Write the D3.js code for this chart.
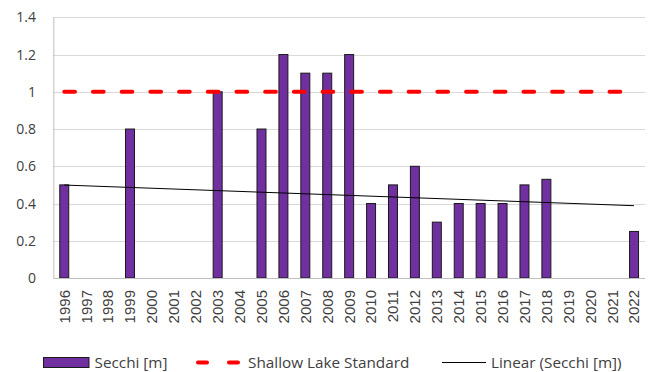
<!DOCTYPE html>
<html>
<head>
<meta charset="utf-8">
<script src="https://cdn.jsdelivr.net/npm/d3@7"></script>
<style>
  html, body { margin: 0; padding: 0; background: #fff; }
  svg { display: block; }
  .ylab { font-family: "Open Sans", "Noto Sans", sans-serif; font-size: 14px; fill: #404040; }
  .xlab { font-family: "Liberation Sans", Arial, sans-serif; font-size: 15px; fill: #404040; }
  .leg { font-family: "Open Sans", "Noto Sans", sans-serif; font-size: 15.3px; fill: #404040; }
</style>
</head>
<body>
<script>
// Secchi depth by year (m); null = no measurement that year
const years = ["1996","1997","1998","1999","2000","2001","2002","2003","2004","2005","2006","2007","2008","2009","2010","2011","2012","2013","2014","2015","2016","2017","2018","2019","2020","2021","2022"];
const secchi = [0.5, null, null, 0.8, null, null, null, 1.0, null, 0.8, 1.2, 1.1, 1.1, 1.2, 0.4, 0.5, 0.6, 0.3, 0.4, 0.4, 0.4, 0.5, 0.53, null, null, null, 0.25];
const shallowLakeStandard = 1.0;
const yTicks = [0, 0.2, 0.4, 0.6, 0.8, 1, 1.2, 1.4];
const legendLabels = ["Secchi [m]", "Shallow Lake Standard", "Linear (Secchi [m])"];

const W = 652, H = 372;
const plot = { left: 53.3, right: 645, top: 17.3, bottom: 278 };

const svg = d3.select("body").append("svg").attr("width", W).attr("height", H);

const x = d3.scaleBand().domain(years).range([plot.left, plot.right]).paddingInner(0).paddingOuter(0);
const y = d3.scaleLinear().domain([0, 1.4]).range([plot.bottom, plot.top]);
const cx = d => x(d) + x.bandwidth() / 2;

// Horizontal gridlines
svg.append("g").selectAll("line").data(yTicks.filter(t => t > 0)).join("line")
  .attr("x1", plot.left).attr("x2", plot.right)
  .attr("y1", d => Math.round(y(d)) + 0.5).attr("y2", d => Math.round(y(d)) + 0.5)
  .attr("stroke", "#d9d9d9").attr("stroke-width", 1);

// Y axis labels
svg.append("g").selectAll("text").data(yTicks).join("text")
  .attr("class", "ylab")
  .attr("x", 36).attr("y", d => y(d)).attr("dy", "0.36em")
  .attr("text-anchor", "end")
  .text(d => d3.format("~g")(d));

// Bars
const barW = x.bandwidth() * 0.41;
const pts = years.map((yr, i) => ({ yr, v: secchi[i] }));
svg.append("g").selectAll("rect").data(pts.filter(p => p.v !== null)).join("rect")
  .attr("x", d => cx(d.yr) - barW / 2)
  .attr("y", d => y(d.v))
  .attr("width", barW)
  .attr("height", d => y(0) - y(d.v))
  .attr("fill", "#7030a0")
  .attr("stroke", "#1a1a1a").attr("stroke-width", 1);

// Axes lines (left and bottom)
svg.append("line").attr("x1", plot.left + 0.5).attr("x2", plot.left + 0.5)
  .attr("y1", plot.top).attr("y2", plot.bottom)
  .attr("stroke", "#bfbfbf");
svg.append("line").attr("x1", plot.left).attr("x2", plot.right)
  .attr("y1", Math.round(y(0)) + 0.5).attr("y2", Math.round(y(0)) + 0.5)
  .attr("stroke", "#bfbfbf");

// Shallow lake standard (dashed red)
svg.append("line")
  .attr("x1", cx(years[0])).attr("x2", cx(years[years.length - 1]))
  .attr("y1", y(shallowLakeStandard)).attr("y2", y(shallowLakeStandard))
  .attr("stroke", "#ff0000").attr("stroke-width", 4)
  .attr("stroke-linecap", "round")
  .attr("stroke-dasharray", "10.7,18");

// Linear trend of Secchi over category index (empty years count as zero)
const n = years.length;
const xs = d3.range(1, n + 1);
const ys = secchi.map(v => v === null ? 0 : v);
const mx = d3.mean(xs), my = d3.mean(ys);
const slope = d3.sum(xs, (xi, i) => (xi - mx) * (ys[i] - my)) / d3.sum(xs, xi => (xi - mx) ** 2);
const intercept = my - slope * mx;
svg.append("line")
  .attr("x1", cx(years[0])).attr("y1", y(intercept + slope * 1))
  .attr("x2", cx(years[n - 1])).attr("y2", y(intercept + slope * n))
  .attr("stroke", "#000").attr("stroke-width", 1);

// X axis labels (rotated)
svg.append("g").selectAll("text").data(years).join("text")
  .attr("class", "xlab")
  .attr("transform", d => `translate(${cx(d)},${290}) rotate(-90)`)
  .attr("text-anchor", "end")
  .attr("dy", "0.36em")
  .text(d => d);

// Legend
const lg = svg.append("g");
lg.append("rect").attr("x", 43.5).attr("y", 357.5).attr("width", 45.5).attr("height", 10)
  .attr("fill", "#7030a0").attr("stroke", "#1a1a1a");
lg.append("text").attr("class", "leg").attr("x", 94.5).attr("y", 362).attr("dy", "0.36em").text(legendLabels[0]);
lg.append("line").attr("x1", 198).attr("x2", 238).attr("y1", 362.5).attr("y2", 362.5)
  .attr("stroke", "#ff0000").attr("stroke-width", 4).attr("stroke-linecap", "round")
  .attr("stroke-dasharray", "9,22");
lg.append("text").attr("class", "leg").attr("x", 248).attr("y", 362).attr("dy", "0.36em").text(legendLabels[1]);
lg.append("line").attr("x1", 442).attr("x2", 486).attr("y1", 362.5).attr("y2", 362.5)
  .attr("stroke", "#000").attr("stroke-width", 1);
lg.append("text").attr("class", "leg").attr("x", 491).attr("y", 362).attr("dy", "0.36em").text(legendLabels[2]);
</script>
</body>
</html>
